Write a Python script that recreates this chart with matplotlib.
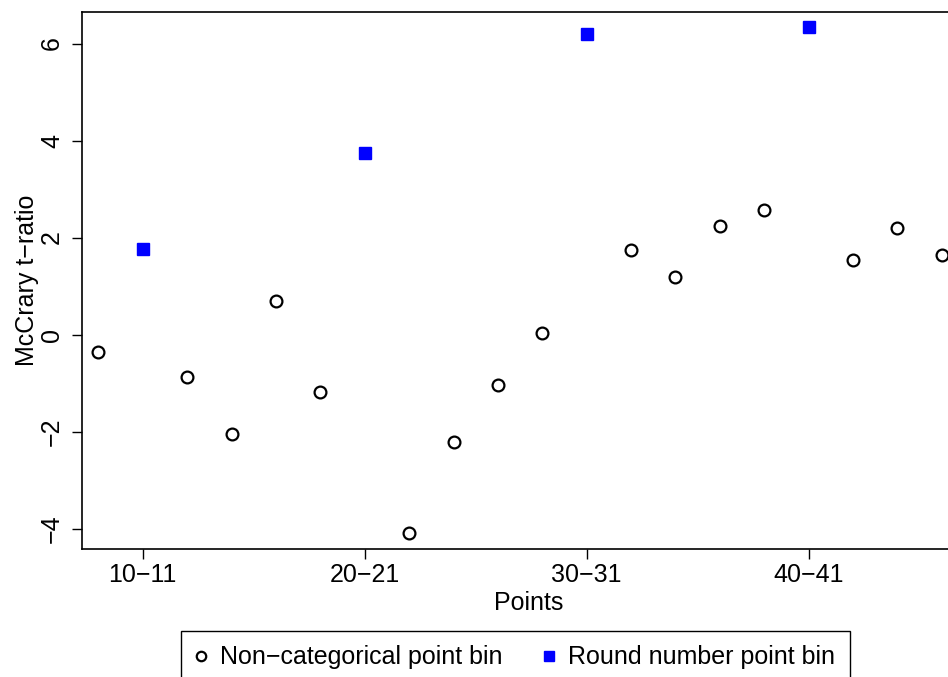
import matplotlib
matplotlib.use("Agg")
import matplotlib.pyplot as plt

plt.rcParams['font.family'] = ['Liberation Sans', 'DejaVu Sans']

# Non-categorical bins (every 2 points) and round number bins
bins_x = [8, 12, 14, 16, 18, 22, 24, 26, 28, 32, 34, 36, 38, 42, 44, 46]
bins_t = [-0.36, -0.87, -2.05, 0.69, -1.19, -4.09, -2.22, -1.04, 0.03,
          1.74, 1.19, 2.24, 2.57, 1.54, 2.20, 1.64]

round_x = [10, 20, 30, 40]
round_t = [1.76, 3.74, 6.20, 6.34]

tick_pos = [10, 20, 30, 40]
tick_labels = ['10\u221211', '20\u221221', '30\u221231', '40\u221241']

fig = plt.figure(figsize=(9.48, 6.77), dpi=100)
ax = fig.add_axes([0.0865, 0.1891, 0.942, 0.7932])

ax.plot(bins_x, bins_t, 'o', mfc='white', mec='black', ms=8.5, mew=1.6,
        label='Non\u2212categorical point bin')
ax.plot(round_x, round_t, 's', color='#0000ff', ms=9,
        label='Round number point bin')

ax.set_xlim(7.26, 47.5)
ax.set_ylim(-4.42, 6.65)
ax.set_xticks(tick_pos)
ax.set_xticklabels(tick_labels)
ax.set_yticks([-4, -2, 0, 2, 4, 6])
ax.set_yticklabels(['\u22124', '\u22122', '0', '2', '4', '6'], rotation=90, va='center')

ax.tick_params(labelsize=18, length=7, width=1, direction='out')
ax.tick_params(axis='x', pad=3)
ax.tick_params(axis='y', pad=6)
for s in ax.spines.values():
    s.set_linewidth(1.2)

ax.set_xlabel('Points', fontsize=18, labelpad=3)
ax.set_ylabel('McCrary t\u2212ratio', fontsize=18, labelpad=1)

fig.legend(loc='upper left', bbox_to_anchor=(181 / 948, 0.068), ncol=2,
           fontsize=18, frameon=True, fancybox=False, edgecolor='black',
           framealpha=1, borderpad=0.58, handletextpad=0.55, handlelength=0.45,
           columnspacing=1.6, markerscale=0.8, borderaxespad=0)

fig.savefig('out.png', dpi=100)
